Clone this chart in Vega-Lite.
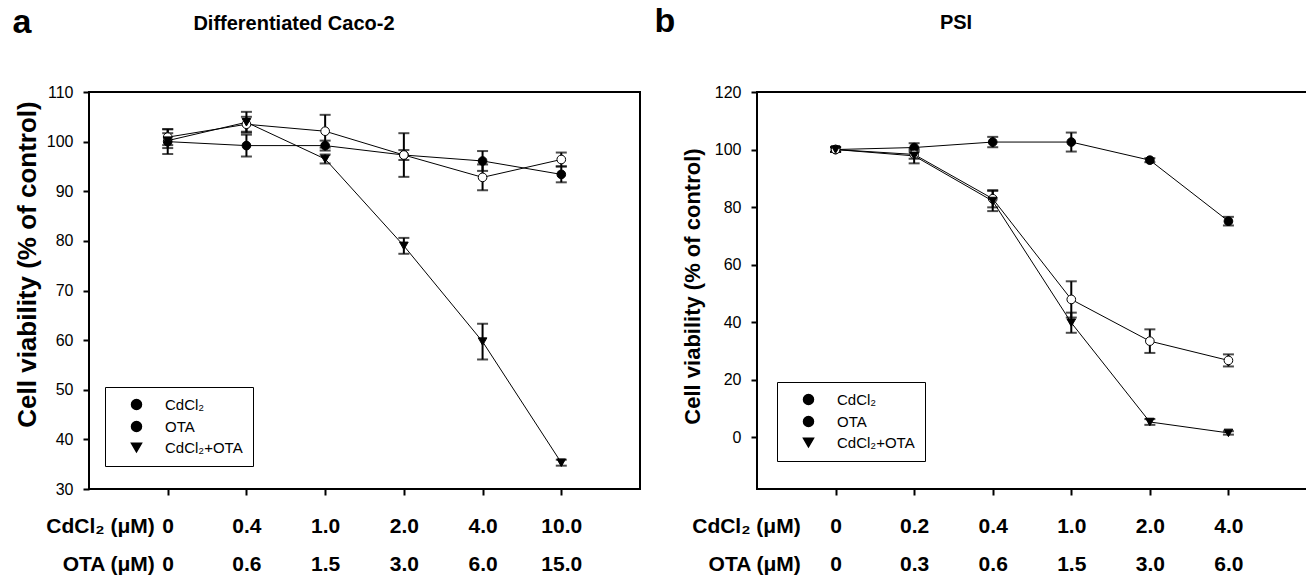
{
  "$schema": "https://vega.github.io/schema/vega-lite/v6.json",
  "background": "white",
  "padding": {"left": 11, "top": 3, "right": 0, "bottom": 0},
  "bounds": "flush",
  "spacing": 117,
  "resolve": {"scale": {"shape": "independent"}},
  "config": {
    "font": "Liberation Sans",
    "view": {"stroke": "black", "strokeWidth": 2},
    "axis": {"labelColor": "black", "titleColor": "black", "tickColor": "black", "grid": false, "domain": false}
  },
  "hconcat": [
    {
      "width": 551,
      "height": 397,
      "data": {"values": [
        {"series": "CdCl₂", "idx": 0, "val": 100.0, "err": 2.5},
        {"series": "CdCl₂", "idx": 1, "val": 99.2, "err": 2.2},
        {"series": "CdCl₂", "idx": 2, "val": 99.2, "err": 1.0},
        {"series": "CdCl₂", "idx": 3, "val": 97.3, "err": 1.0},
        {"series": "CdCl₂", "idx": 4, "val": 96.1, "err": 2.0},
        {"series": "CdCl₂", "idx": 5, "val": 93.4, "err": 1.6},
        {"series": "OTA", "idx": 0, "val": 100.9, "err": 1.6},
        {"series": "OTA", "idx": 1, "val": 103.5, "err": 1.5},
        {"series": "OTA", "idx": 2, "val": 102.1, "err": 3.3},
        {"series": "OTA", "idx": 3, "val": 97.3, "err": 4.4},
        {"series": "OTA", "idx": 4, "val": 92.8, "err": 2.6},
        {"series": "OTA", "idx": 5, "val": 96.4, "err": 1.4},
        {"series": "CdCl₂+OTA", "idx": 0, "val": 100.2, "err": 1.5},
        {"series": "CdCl₂+OTA", "idx": 1, "val": 103.9, "err": 2.1},
        {"series": "CdCl₂+OTA", "idx": 2, "val": 96.5, "err": 0.9},
        {"series": "CdCl₂+OTA", "idx": 3, "val": 79.0, "err": 1.6},
        {"series": "CdCl₂+OTA", "idx": 4, "val": 59.7, "err": 3.6},
        {"series": "CdCl₂+OTA", "idx": 5, "val": 35.3, "err": 0.6}
      ]},
      "encoding": {
        "x": {"field": "idx", "type": "quantitative",
          "scale": {"domain": [-1, 6], "nice": false, "zero": false},
          "axis": {"title": null, "values": [-0.17, 0, 1, 2, 3, 4, 5],
            "tickSize": 6, "tickWidth": 2,
            "tickOpacity": {"condition": {"test": "datum.value < 0", "value": 0}, "value": 1},
            "labelExpr": "datum.value < 0 ? ['CdCl₂ (μM)', 'OTA  (μM)'] : [['0','0.4','1.0','2.0','4.0','10.0'][datum.value], ['0','0.6','1.5','3.0','6.0','15.0'][datum.value]]",
            "labelFontSize": 21, "labelFontWeight": "bold", "labelLineHeight": 38, "labelPadding": 20,
            "labelBaseline": "top",
            "labelAlign": {"condition": {"test": "datum.value < 0", "value": "right"}, "value": "center"},
            "labelOverlap": false, "labelBound": false, "labelFlush": false}},
        "y": {"field": "val", "type": "quantitative",
          "scale": {"domain": [30, 110], "nice": false, "zero": false},
          "axis": {"title": "Cell viability (% of control)", "values": [30, 40, 50, 60, 70, 80, 90, 100, 110],
            "tickSize": 6, "tickWidth": 2, "labelFontSize": 16, "labelPadding": 10,
            "titleFontSize": 26, "titleFontWeight": "bold", "titlePadding": 6, "titleY": 172}}
      },
      "layer": [
        {"mark": {"type": "errorbar", "ticks": true, "size": 11, "thickness": 2, "color": "black"},
         "encoding": {"yError": {"field": "err"}, "detail": {"field": "series"}}},
        {"mark": {"type": "line", "color": "black", "strokeWidth": 1},
         "encoding": {"detail": {"field": "series"}}},
        {"mark": {"type": "point", "filled": true, "opacity": 1, "stroke": "black", "strokeWidth": 1, "size": 75},
         "encoding": {
           "fill": {"condition": {"test": "datum.series == 'OTA'", "value": "white"}, "value": "black"},
           "shape": {"field": "series", "type": "nominal",
             "scale": {"domain": ["CdCl₂", "OTA", "CdCl₂+OTA"], "range": ["circle", "circle", "triangle-down"]},
             "legend": {"orient": "none", "legendX": 16, "legendY": 295, "title": null,
               "strokeColor": "black", "fillColor": "white", "padding": 10, "cornerRadius": 0,
               "labelFontSize": 15, "labelColor": "black", "labelOffset": 21, "rowPadding": 5, "symbolOffset": 14,
               "symbolSize": 100, "symbolOpacity": 1,
               "encode": {"symbols": {
                 "stroke": {"value": "black"},
                 "strokeWidth": {"value": 1.5},
                 "fill": {"condition": {"test": "datum.label == 'OTA' || datum.value == 'OTA'", "value": "white"}, "value": "black"}
               }}}}
         }},
        {"data": {"values": [{"t": "a", "idx": -1.851, "val": 121.89}]},
         "mark": {"type": "text", "fontSize": 34, "fontWeight": "bold", "align": "center", "baseline": "alphabetic", "color": "black"},
         "encoding": {"text": {"field": "t", "type": "nominal"}}},
        {"data": {"values": [{"t": "Differentiated Caco-2", "idx": 1.604, "val": 122.49}]},
         "mark": {"type": "text", "fontSize": 20, "fontWeight": "bold", "align": "center", "baseline": "alphabetic", "color": "black"},
         "encoding": {"text": {"field": "t", "type": "nominal"}}}
      ]
    },
    {
      "width": 550,
      "height": 397,
      "data": {"values": [
        {"series": "CdCl₂", "idx": 0, "val": 100.0, "err": 0.8},
        {"series": "CdCl₂", "idx": 1, "val": 100.7, "err": 1.5},
        {"series": "CdCl₂", "idx": 2, "val": 102.6, "err": 1.8},
        {"series": "CdCl₂", "idx": 3, "val": 102.6, "err": 3.3},
        {"series": "CdCl₂", "idx": 4, "val": 96.3, "err": 0.7},
        {"series": "CdCl₂", "idx": 5, "val": 75.1, "err": 1.5},
        {"series": "OTA", "idx": 0, "val": 100.0, "err": 0.8},
        {"series": "OTA", "idx": 1, "val": 98.3, "err": 1.5},
        {"series": "OTA", "idx": 2, "val": 82.9, "err": 3.0},
        {"series": "OTA", "idx": 3, "val": 47.9, "err": 6.3},
        {"series": "OTA", "idx": 4, "val": 33.4, "err": 4.1},
        {"series": "OTA", "idx": 5, "val": 26.7, "err": 2.1},
        {"series": "CdCl₂+OTA", "idx": 0, "val": 100.0, "err": 0.8},
        {"series": "CdCl₂+OTA", "idx": 1, "val": 97.8, "err": 2.6},
        {"series": "CdCl₂+OTA", "idx": 2, "val": 82.1, "err": 3.5},
        {"series": "CdCl₂+OTA", "idx": 3, "val": 39.8, "err": 3.5},
        {"series": "CdCl₂+OTA", "idx": 4, "val": 5.3, "err": 1.0},
        {"series": "CdCl₂+OTA", "idx": 5, "val": 1.5, "err": 0.6}
      ]},
      "encoding": {
        "x": {"field": "idx", "type": "quantitative",
          "scale": {"domain": [-1, 6], "nice": false, "zero": false},
          "axis": {"title": null, "values": [-0.45, 0, 1, 2, 3, 4, 5],
            "tickSize": 6, "tickWidth": 2,
            "tickOpacity": {"condition": {"test": "datum.value < 0", "value": 0}, "value": 1},
            "labelExpr": "datum.value < 0 ? ['CdCl₂ (μM)', 'OTA  (μM)'] : [['0','0.2','0.4','1.0','2.0','4.0'][datum.value], ['0','0.3','0.6','1.5','3.0','6.0'][datum.value]]",
            "labelFontSize": 21, "labelFontWeight": "bold", "labelLineHeight": 38, "labelPadding": 20,
            "labelBaseline": "top",
            "labelAlign": {"condition": {"test": "datum.value < 0", "value": "right"}, "value": "center"},
            "labelOverlap": false, "labelBound": false, "labelFlush": false}},
        "y": {"field": "val", "type": "quantitative",
          "scale": {"domain": [-18, 120], "nice": false, "zero": false},
          "axis": {"title": "Cell viability (% of control)", "values": [0, 20, 40, 60, 80, 100, 120],
            "tickSize": 6, "tickWidth": 2, "labelFontSize": 16, "labelPadding": 10,
            "titleFontSize": 22, "titleFontWeight": "bold", "titlePadding": 10, "titleY": 194}}
      },
      "layer": [
        {"mark": {"type": "errorbar", "ticks": true, "size": 11, "thickness": 2, "color": "black"},
         "encoding": {"yError": {"field": "err"}, "detail": {"field": "series"}}},
        {"mark": {"type": "line", "color": "black", "strokeWidth": 1},
         "encoding": {"detail": {"field": "series"}}},
        {"mark": {"type": "point", "filled": true, "opacity": 1, "stroke": "black", "strokeWidth": 1, "size": 75},
         "encoding": {
           "fill": {"condition": {"test": "datum.series == 'OTA'", "value": "white"}, "value": "black"},
           "shape": {"field": "series", "type": "nominal",
             "scale": {"domain": ["CdCl₂", "OTA", "CdCl₂+OTA"], "range": ["circle", "circle", "triangle-down"]},
             "legend": {"orient": "none", "legendX": 20, "legendY": 290, "title": null,
               "strokeColor": "black", "fillColor": "white", "padding": 10, "cornerRadius": 0,
               "labelFontSize": 15, "labelColor": "black", "labelOffset": 21, "rowPadding": 5, "symbolOffset": 14,
               "symbolSize": 100, "symbolOpacity": 1,
               "encode": {"symbols": {
                 "stroke": {"value": "black"},
                 "strokeWidth": {"value": 1.5},
                 "fill": {"condition": {"test": "datum.label == 'OTA' || datum.value == 'OTA'", "value": "white"}, "value": "black"}
               }}}}
         }},
        {"data": {"values": [{"t": "b", "idx": -2.171, "val": 140.86}]},
         "mark": {"type": "text", "fontSize": 34, "fontWeight": "bold", "align": "center", "baseline": "alphabetic", "color": "black"},
         "encoding": {"text": {"field": "t", "type": "nominal"}}},
        {"data": {"values": [{"t": "PSI", "idx": 1.533, "val": 141.9}]},
         "mark": {"type": "text", "fontSize": 20, "fontWeight": "bold", "align": "center", "baseline": "alphabetic", "color": "black"},
         "encoding": {"text": {"field": "t", "type": "nominal"}}}
      ]
    }
  ]
}
